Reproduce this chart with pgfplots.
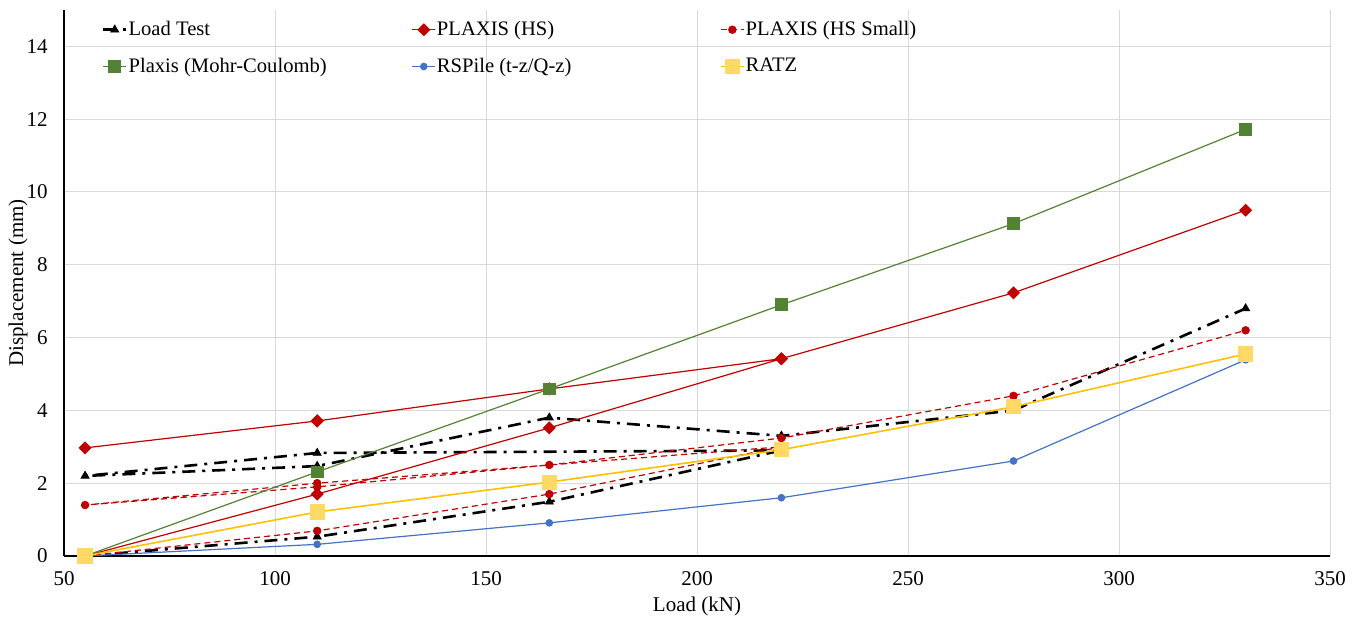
\documentclass[border=0pt]{standalone}
\usepackage{fontspec}
\setmainfont{Liberation Serif}
\usepackage{pgfplots}
\pgfplotsset{compat=1.18}
\definecolor{hsred}{HTML}{C00000}
\definecolor{mcgreen}{HTML}{548235}
\definecolor{rsblue}{HTML}{4472C4}
\definecolor{ratzline}{HTML}{FFC000}
\definecolor{ratzmark}{HTML}{FFD966}
\definecolor{gridc}{HTML}{D9D9D9}
\newcommand{\lt}[1]{\makebox[141pt][l]{#1}}
\begin{document}
\fontsize{10.3}{12}\selectfont
\begin{tikzpicture}
\begin{axis}[name=ax, scale only axis, width=633pt, height=273pt,
 xmin=50, xmax=350, ymin=0, ymax=15,
 xtick={50,100,...,350}, ytick={0,2,...,14},
 axis x line*=bottom, axis y line*=left,
 axis line style={black, line width=0.6pt, -},
 major tick length=0pt,
 grid=major, grid style={gridc, line width=0.5pt},
 ticklabel style={font=\fontsize{10.5}{12}\selectfont},
 /pgf/number format/assume math mode=true,
 yticklabel style={xshift=-4.5pt},
 xticklabel style={yshift=-4pt},
 xlabel={Load (kN)}, ylabel={Displacement (mm)},
 every axis x label/.style={at={(axis description cs:0.5,-0.0916)},anchor=center},
 every axis y label/.style={at={(axis description cs:-0.0363,0.5)},anchor=center,rotate=90},
 label style={font=\fontsize{10.5}{12}\selectfont},
 legend columns=3,
 legend style={at={(axis description cs:0.025,0.99)}, anchor=north west, draw=none, fill=none,
   font=\fontsize{10.3}{12}\selectfont, row sep=8.5pt, nodes={inner sep=0.6pt}},
 legend cell align=left,
 legend image code/.code={\draw[mark repeat=2,mark phase=2] plot coordinates {(0cm,0cm)(0.2cm,0cm)(0.4cm,0cm)};},
]
% Load Test
\addplot[black, line width=1.3pt, dash pattern=on 6.5pt off 3.5pt on 1.5pt off 3.5pt,
  mark=triangle*, mark size=2.3pt, mark options={solid, line width=0.4pt}]
 coordinates {(55,0) (110,0.53) (165,1.49) (220,2.9) (110,2.83) (55,2.2) (110,2.47) (165,3.8) (220,3.3) (275,4.0) (330,6.8)};
\addlegendentry{\lt{Load Test}}
% PLAXIS (HS)
\addplot[hsred, line width=0.6pt, mark=square*, mark size=2pt, mark options={solid, rotate=45}]
 coordinates {(55,0) (110,1.7) (165,3.52) (220,5.42) (165,4.59) (110,3.71) (55,2.97) (110,3.71) (165,4.59) (220,5.42) (275,7.23) (330,9.5)};
\addlegendentry{\lt{PLAXIS (HS)}}
% PLAXIS (HS Small)
\addplot[hsred, line width=0.6pt, dash pattern=on 3pt off 2pt, mark=*, mark size=1.8pt, mark options={solid}]
 coordinates {(55,0) (110,0.69) (165,1.7) (220,3.0) (110,2.0) (55,1.4) (110,1.9) (165,2.5) (220,3.24) (275,4.4) (330,6.2)};
\addlegendentry{\lt{PLAXIS (HS Small)}}
% Plaxis (Mohr-Coulomb)
\addplot[mcgreen, line width=0.6pt, mark=square*, mark size=2.9pt, mark options={solid}]
 coordinates {(55,0) (110,2.31) (165,4.59) (220,6.9) (275,9.13) (330,11.72)};
\addlegendentry{\lt{Plaxis (Mohr-Coulomb)}}
% RSPile
\addplot[rsblue, line width=0.6pt, mark=*, mark size=1.6pt, mark options={solid}]
 coordinates {(55,0) (110,0.32) (165,0.91) (220,1.6) (275,2.61) (330,5.39)};
\addlegendentry{\lt{RSPile (t-z/Q-z)}}
% RATZ
\addplot[ratzline, line width=0.8pt, mark=square*, mark size=3.4pt, mark options={solid, fill=ratzmark, draw=ratzmark}]
 coordinates {(55,0) (110,1.21) (165,2.03) (220,2.92) (275,4.1) (330,5.55)};
\addlegendentry{\lt{RATZ}}
\end{axis}
\pgfresetboundingbox
\path ([xshift=-32pt,yshift=-31.5pt]ax.south west) rectangle ([xshift=14pt,yshift=5pt]ax.north east);
\end{tikzpicture}
\end{document}
